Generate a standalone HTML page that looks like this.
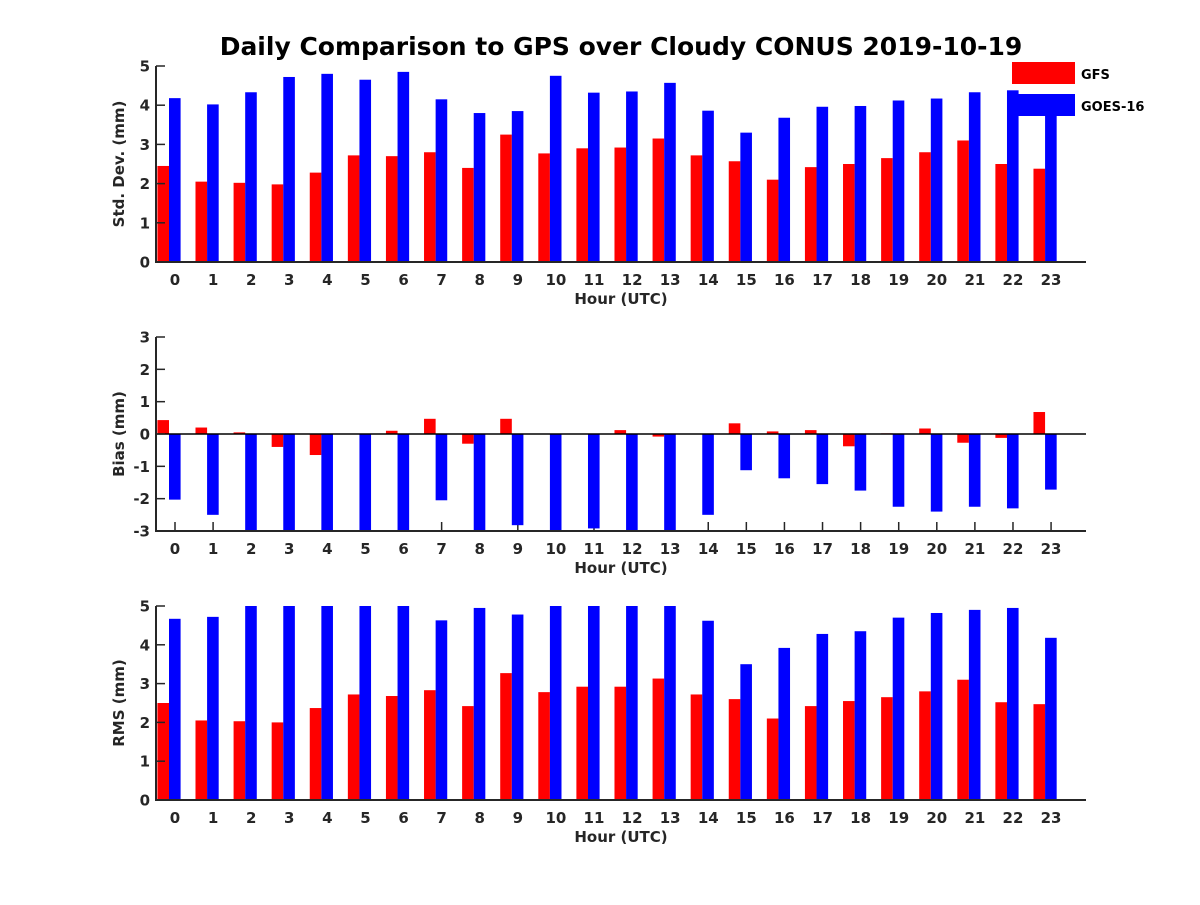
<!DOCTYPE html>
<html><head><meta charset="utf-8"><style>
body{margin:0;background:#fff;}
svg text{font-family:"DejaVu Sans","Liberation Sans",sans-serif;font-weight:bold;fill:#262626;}
</style></head><body>
<svg id="chart" width="1200" height="900" xmlns="http://www.w3.org/2000/svg">
<text x="621" y="55" text-anchor="middle" font-size="25" style="fill:#000">Daily Comparison to GPS over Cloudy CONUS 2019-10-19</text>
</svg>
<script>
const hours = [0,1,2,3,4,5,6,7,8,9,10,11,12,13,14,15,16,17,18,19,20,21,22,23];
const gfsStd = [2.45,2.05,2.02,1.98,2.28,2.72,2.7,2.8,2.4,3.25,2.77,2.9,2.92,3.15,2.72,2.57,2.1,2.42,2.5,2.65,2.8,3.1,2.5,2.38];
const goesStd = [4.18,4.02,4.33,4.72,4.8,4.65,4.85,4.15,3.8,3.85,4.75,4.32,4.35,4.57,3.86,3.3,3.68,3.96,3.98,4.12,4.17,4.33,4.38,3.9];
const gfsBias = [0.43,0.2,0.05,-0.4,-0.65,0,0.1,0.47,-0.3,0.47,0,0,0.12,-0.08,0,0.33,0.08,0.12,-0.38,0.02,0.17,-0.27,-0.12,0.68];
const goesBias = [-2.03,-2.5,-3,-3,-3,-3,-3,-2.05,-3,-2.82,-3,-2.92,-3,-3,-2.5,-1.12,-1.37,-1.55,-1.75,-2.25,-2.4,-2.25,-2.3,-1.72];
const gfsRms = [2.5,2.05,2.03,2.0,2.37,2.72,2.68,2.83,2.42,3.27,2.78,2.92,2.92,3.13,2.72,2.6,2.1,2.42,2.55,2.65,2.8,3.1,2.52,2.47];
const goesRms = [4.67,4.72,5,5,5,5,5,4.63,4.95,4.78,5,5,5,5,4.62,3.5,3.92,4.28,4.35,4.7,4.82,4.9,4.95,4.18];
const stdTicks = [0,1,2,3,4,5];
const biasTicks = [-3,-2,-1,0,1,2,3];

const NS = 'http://www.w3.org/2000/svg';
const svg = document.getElementById('chart');
function mk(tag, attrs, parent){
  const e = document.createElementNS(NS, tag);
  for (const k in attrs) e.setAttribute(k, attrs[k]);
  (parent || svg).appendChild(e);
  return e;
}
const X0 = 156, X1 = 1086;
function xc(h){ return 169 + 38.09 * h; }
function xt(h){ return 175 + 38.09 * h; }
const BW = 11.6;

function panel(name, top, bottom, ymin, ymax, ticks, red, blue, ylabel){
  const g = mk('g', {});
  
  
  const y = v => bottom - (v - ymin) / (ymax - ymin) * (bottom - top);
  const clipId = 'clip-' + name;
  const cp = mk('clipPath', {id: clipId}, g);
  mk('rect', {x: X0, y: top, width: X1 - X0, height: bottom - top}, cp);
  hours.forEach(h => {
    const t = mk('line', {x1: xt(h), x2: xt(h), y1: bottom, y2: bottom - 9, stroke: '#262626', 'stroke-width': 1.5}, g);
    
    
  });
  const bars = mk('g', {'clip-path': 'url(#' + clipId + ')'}, g);
  const base = y(Math.max(ymin, 0));
  hours.forEach((h, i) => {
    const c = xc(h);
    const yr = y(red[i]);
    const r = mk('rect', {x: c - BW, y: Math.min(yr, base), width: BW, height: Math.abs(base - yr), fill: '#ff0000'}, bars);
    
    
    const yb = y(blue[i]);
    const b = mk('rect', {x: c, y: Math.min(yb, base), width: BW, height: Math.abs(base - yb), fill: '#0000ff'}, bars);
    
    
  });
  if (ymin < 0) {
    const z = mk('line', {x1: X0, x2: X1, y1: y(0), y2: y(0), stroke: '#000', 'stroke-width': 1.5}, g);
    
    
  }
  const ax = mk('path', {d: `M${X0},${top}V${bottom}H${X1}`, fill: 'none', stroke: '#262626', 'stroke-width': 2}, g);
  
  
  ticks.forEach(v => {
    const yy = y(v);
    mk('line', {x1: X0, x2: X0 + 9, y1: yy, y2: yy, stroke: '#262626', 'stroke-width': 1.5}, g);
    const t = mk('text', {x: X0 - 6, y: yy + 5.5, 'text-anchor': 'end', 'font-size': 15}, g);
    t.textContent = v;
    
    
  });
  hours.forEach(h => {
    const t = mk('text', {x: xt(h), y: bottom + 23, 'text-anchor': 'middle', 'font-size': 15}, g);
    t.textContent = h;
    
    
  });
  const xl = mk('text', {x: 621, y: bottom + 42, 'text-anchor': 'middle', 'font-size': 15}, g);
  xl.textContent = 'Hour (UTC)';
  
  
  const my = (top + bottom) / 2;
  const yl = mk('text', {x: 124, y: my, 'text-anchor': 'middle', 'font-size': 15, transform: `rotate(-90 124 ${my})`}, g);
  yl.textContent = ylabel;
  
  
}
panel('std', 66, 262, 0, 5, stdTicks, gfsStd, goesStd, 'Std. Dev. (mm)');
panel('bias', 337, 531, -3, 3, biasTicks, gfsBias, goesBias, 'Bias (mm)');
panel('rms', 606, 800, 0, 5, stdTicks, gfsRms, goesRms, 'RMS (mm)');

const lg = mk('g', {});


const r1 = mk('rect', {x: 1012, y: 62, width: 63, height: 22, fill: '#ff0000'}, lg);


const t1 = mk('text', {x: 1081, y: 79, 'font-size': 13, style: 'fill:#000'}, lg);
t1.textContent = 'GFS';


const r2 = mk('rect', {x: 1012, y: 94, width: 63, height: 22, fill: '#0000ff'}, lg);


const t2 = mk('text', {x: 1081, y: 111, 'font-size': 13, style: 'fill:#000'}, lg);
t2.textContent = 'GOES-16';


</script>
</body></html>
